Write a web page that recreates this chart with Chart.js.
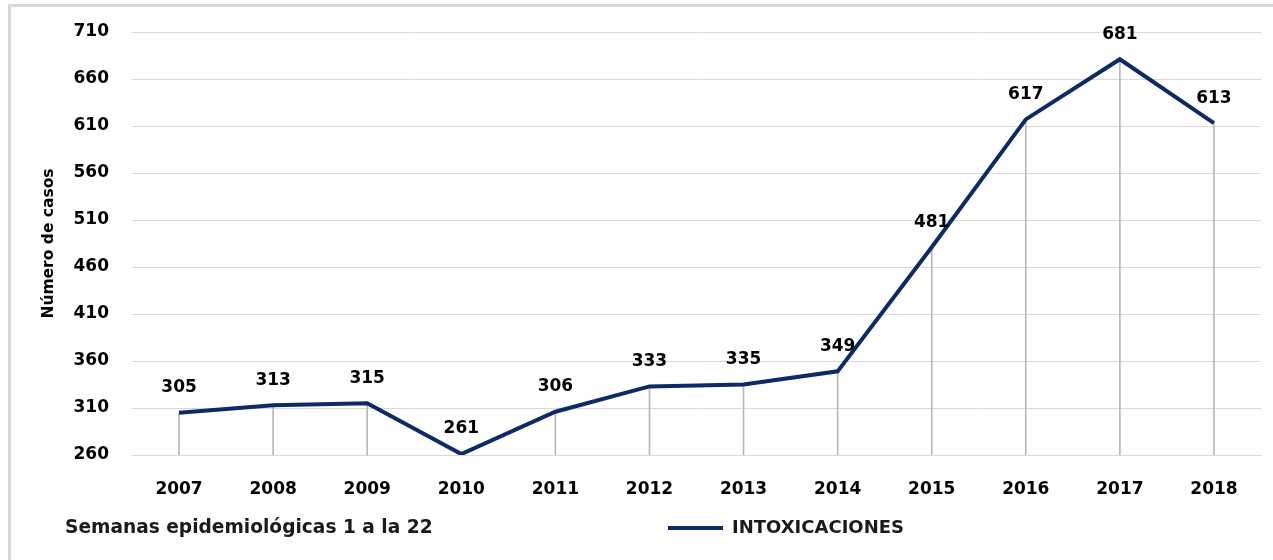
<!DOCTYPE html>
<html>
<head>
<meta charset="utf-8">
<script src="https://cdn.jsdelivr.net/npm/chart.js@4.4.1/dist/chart.umd.min.js"></script>
<style>
  html, body { margin: 0; padding: 0; background: #fff; overflow: hidden; }
  #frame {
    position: absolute; left: 8px; top: 4px; width: 1262px; height: 553px;
    border-left: 3px solid #d9d9d9; border-top: 3px solid #d9d9d9;
  }
  #box { position: relative; width: 1262px; height: 553px; }
</style>
</head>
<body>
<div id="frame"><div id="box"><canvas id="chart"></canvas></div></div>
<script>
// datos
const years = ['2007', '2008', '2009', '2010', '2011', '2012', '2013', '2014', '2015', '2016', '2017', '2018'];
const casos = [305, 313, 315, 261, 306, 333, 335, 349, 481, 617, 681, 613];
const serieNombre = 'INTOXICACIONES';
const yMin = 260, yMax = 710, yStep = 50;
const yTitulo = 'Número de casos';
const nota = 'Semanas epidemiológicas 1 a la 22';

const NAVY = '#0c2a66';
const GRID = '#d9d9d9';
const FONT = 'DejaVu Sans';

Chart.defaults.font.family = FONT;
Chart.defaults.color = '#000';

// etiquetas de valor sobre cada punto
const valueLabels = {
  id: 'valueLabels',
  afterDatasetsDraw(chart) {
    const meta = chart.getDatasetMeta(1);
    const ctx = chart.ctx;
    ctx.save();
    ctx.font = 'bold 17px ' + FONT;
    ctx.fillStyle = '#000';
    ctx.textAlign = 'center';
    ctx.textBaseline = 'middle';
    meta.data.forEach((pt, i) => {
      ctx.fillText(String(casos[i]), pt.x, pt.y - 25);
    });
    ctx.restore();
  }
};

// nota y leyenda en la misma fila inferior
const bottomRow = {
  id: 'bottomRow',
  afterLayout(chart) {
    const rowY = 521;
    const t = chart.titleBlock;
    if (t) {
      const h = t.bottom - t.top;
      t.left = 54; t.right = 54 + 500;
      t.top = rowY - h / 2; t.bottom = t.top + h;
    }
    const lg = chart.legend;
    if (lg) {
      const h = lg.bottom - lg.top;
      lg.left += 150; lg.right += 150;
      lg.top = rowY - 19; lg.bottom = lg.top + h;
    }
  }
};

new Chart(document.getElementById('chart'), {
  data: {
    labels: years,
    datasets: [
      {
        type: 'bar',
        label: 'drop',
        data: casos.map(v => [yMin, v]),
        backgroundColor: '#b8b8b8',
        barThickness: 1,
        order: 2
      },
      {
        type: 'line',
        label: serieNombre,
        data: casos,
        borderColor: NAVY,
        backgroundColor: NAVY,
        borderWidth: 4,
        pointRadius: 0,
        tension: 0,
        order: 1
      }
    ]
  },
  options: {
    responsive: true,
    maintainAspectRatio: false,
    animation: false,
    layout: { padding: { left: 0, right: 12, top: 25, bottom: 0 } },
    plugins: {
      title: {
        display: true,
        position: 'bottom',
        align: 'start',
        text: nota,
        color: '#1a1a1a',
        font: { size: 18.6, weight: 'bold' },
        padding: 0
      },
      legend: {
        position: 'bottom',
        labels: {
          filter: item => item.datasetIndex === 1,
          usePointStyle: true,
          pointStyle: 'line',
          pointStyleWidth: 55,
          color: '#1a1a1a',
          font: { size: 18, weight: 'bold' },
          padding: 10
        }
      },
      tooltip: { enabled: false }
    },
    scales: {
      x: {
        grid: { display: false },
        border: { display: true, color: GRID, width: 1 },
        ticks: { font: { size: 17, weight: 'bold' }, padding: 16 },
        afterFit(s) {
          const c = s.chart;
          const lh = c.legend ? c.legend.height : 0;
          const th = c.titleBlock ? c.titleBlock.height : 0;
          s.height = Math.max(30, 553 - 448 - lh - th);
        }
      },
      y: {
        min: yMin,
        max: yMax,
        grid: { color: GRID, lineWidth: 1, drawTicks: true, tickLength: 12, tickColor: 'rgba(0,0,0,0)' },
        border: { display: false },
        ticks: { stepSize: yStep, font: { size: 17, weight: 'bold' }, padding: 11 },
        title: {
          display: true,
          text: yTitulo,
          font: { size: 15.5, weight: 'bold' },
          padding: { top: 29, bottom: 0 }
        },
        afterFit(s) { s.width = 121; }
      }
    }
  },
  plugins: [valueLabels, bottomRow]
});
</script>
</body>
</html>
